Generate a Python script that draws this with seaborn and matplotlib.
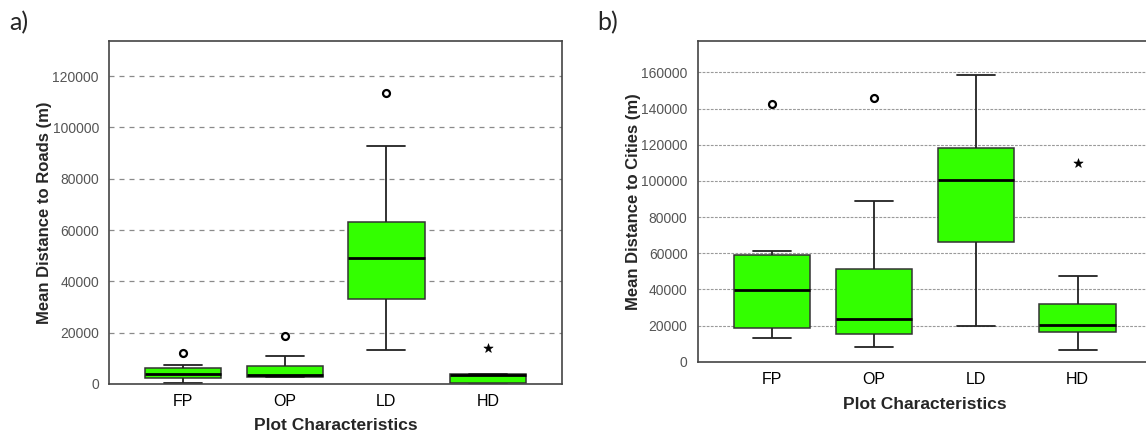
import matplotlib
matplotlib.use("Agg")
import matplotlib.pyplot as plt
import numpy as np
import pandas as pd
import seaborn as sns

# categories on the x axis
categories = ["FP", "OP", "LD", "HD"]

# panel a) mean distance to roads (m): five-number summaries per category
roads_low = [300, 2730, 13130, 100]
roads_q1 = [2455, 2844, 33116, 506]
roads_median = [4013, 3623, 48973, 3506]
roads_q3 = [6117, 7130, 63232, 3896]
roads_high = [7286, 11026, 92840, 4013]
roads_outlier_cat = ["FP", "OP", "LD"]
roads_outlier_val = [11960, 18700, 113260]
roads_extreme_cat = ["HD"]
roads_extreme_val = [13900]

# panel b) mean distance to cities (m)
cities_low = [13270, 8130, 19570, 6630]
cities_q1 = [18900, 15150, 66020, 16590]
cities_median = [39400, 23600, 100460, 20290]
cities_q3 = [59200, 51250, 118000, 31740]
cities_high = [61200, 88850, 158520, 47220]
cities_outlier_cat = ["FP", "OP"]
cities_outlier_val = [142500, 145800]
cities_extreme_cat = ["HD"]
cities_extreme_val = [110030]

BOX_GREEN = "#33ff00"


def summary_frame(low, q1, med, q3, high):
    """Five values per category give exactly those quartiles and whisker ends."""
    rows = []
    for i, cat in enumerate(categories):
        for v in (low[i], q1[i], med[i], q3[i], high[i]):
            rows.append({"cat": cat, "value": v})
    return pd.DataFrame(rows)


def draw_panel(ax, df, out_cat, out_val, ext_cat, ext_val, ylim, yticks,
               ylabel, grid_style, label_coords):
    sns.boxplot(
        data=df, x="cat", y="value", order=categories, ax=ax,
        color=BOX_GREEN, saturation=1, width=0.75, whis=(0, 100),
        showfliers=False, linewidth=1.1, linecolor="#333333",
        medianprops={"color": "black", "linewidth": 2},
        whiskerprops={"color": "#222222", "linewidth": 1.3},
        capprops={"color": "#222222", "linewidth": 1.3},
    )
    sns.stripplot(
        x=out_cat, y=out_val, order=categories, ax=ax, jitter=False,
        marker="o", size=5, color="white", edgecolor="black", linewidth=1.6,
        zorder=5,
    )
    sns.stripplot(
        x=ext_cat, y=ext_val, order=categories, ax=ax, jitter=False,
        marker="*", size=7, color="black", linewidth=0.4, edgecolor="black",
        zorder=5,
    )
    ax.set_xlim(-0.725, 3.73)
    ax.set_ylim(*ylim)
    ax.set_yticks(yticks)
    ax.set_yticklabels([f"{t}" for t in yticks])
    for t in yticks[1:]:
        ax.axhline(t, zorder=0, **grid_style)
    ax.set_xlabel("Plot Characteristics", fontsize=12.5, fontweight="bold",
                  family=["Liberation Sans", "DejaVu Sans"])
    ax.set_ylabel(ylabel, fontsize=12, fontweight="bold",
                  family=["Liberation Sans", "DejaVu Sans"])
    ax.yaxis.set_label_coords(*label_coords[0])
    ax.xaxis.set_label_coords(*label_coords[1])
    ax.tick_params(axis="y", length=6.5, width=1, color="#444444",
                   labelcolor="#555555", labelsize=10, pad=1)
    ax.tick_params(axis="x", length=4.3, width=1, color="#444444",
                   labelcolor="black", labelsize=11.5, pad=3)
    for s in ax.spines.values():
        s.set_color("#444444")
        s.set_linewidth(1.2)
    ax.grid(False)


sns.set_theme(style="white")
plt.rcParams["font.family"] = ["Liberation Sans", "DejaVu Sans"]

fig = plt.figure(figsize=(11.46, 4.37), dpi=100)
ax_a = fig.add_axes([0.0954, 0.1213, 0.3953, 0.7856])
ax_b = fig.add_axes([0.6091, 0.1723, 0.3962, 0.7346])

draw_panel(
    ax_a,
    summary_frame(roads_low, roads_q1, roads_median, roads_q3, roads_high),
    roads_outlier_cat, roads_outlier_val, roads_extreme_cat, roads_extreme_val,
    (0, 133800), list(range(0, 120001, 20000)), "Mean Distance to Roads (m)",
    {"color": "#8a8a8a", "linestyle": (0, (4, 4)), "linewidth": 0.9},
    ((-0.126, 0.5), (0.499, -0.1005)),
)
draw_panel(
    ax_b,
    summary_frame(cities_low, cities_q1, cities_median, cities_q3, cities_high),
    cities_outlier_cat, cities_outlier_val, cities_extreme_cat, cities_extreme_val,
    (0, 177500), list(range(0, 160001, 20000)), "Mean Distance to Cities (m)",
    {"color": "#9a9a9a", "linestyle": (0, (2.5, 1.2)), "linewidth": 0.8},
    ((-0.1256, 0.5), (0.5, -0.11)),
)

fig.text(0.008, 0.948, "a)", fontsize=18, family=["Lato", "DejaVu Sans"],
         va="center", ha="left")
fig.text(0.521, 0.948, "b)", fontsize=18, family=["Lato", "DejaVu Sans"],
         va="center", ha="left")

fig.savefig("out.png", dpi=100)
